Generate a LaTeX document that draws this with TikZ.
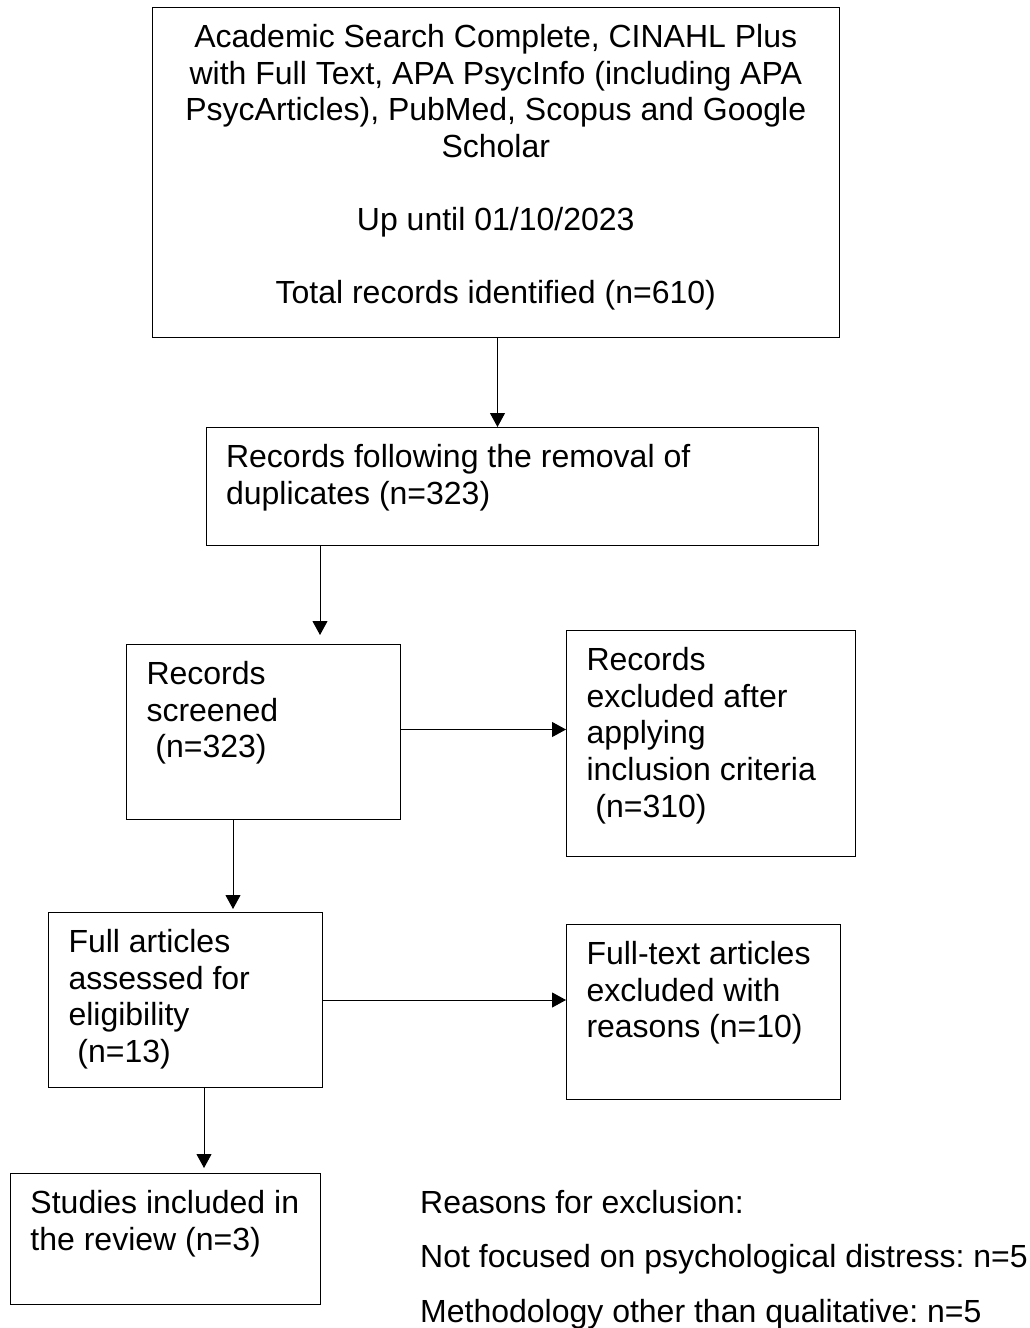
\documentclass[tikz,border=0pt]{standalone}
\usepackage{fontspec}
\setmainfont{Liberation Sans}
\usetikzlibrary{positioning,arrows.meta,calc}
\frenchspacing
\newcommand{\boxtext}[4]{\parbox[c][#2][t]{#1}{#3\strut#4}}

\begin{document}
\begin{tikzpicture}[x=1pt,y=-1pt,
    flowbox/.style={draw,line width=1pt,anchor=north west,inner xsep=20pt,inner ysep=14.5pt,font=\fontsize{32}{36.6}\selectfont},
    arr/.style={-{Triangle[length=14pt,width=15pt]},line width=1pt}]
    \useasboundingbox (0,0) rectangle (1029,1328);
    \node[flowbox] (identified) at (151.5,7) {\boxtext{647.5pt}{301pt}{\centering}{Academic Search Complete, CINAHL Plus\\with Full Text, APA PsycInfo (including APA\\PsycArticles), PubMed, Scopus and Google\\Scholar\\[36.6pt]Up until 01/10/2023\\[36.6pt]Total records identified (n=610)}};
    \node[flowbox] (deduplicated) at (205.6,427) {\boxtext{572.4pt}{89pt}{\raggedright}{Records following the removal of\\duplicates (n=323)}};
    \node[flowbox] (screened) at (126,644) {\boxtext{234pt}{146pt}{\raggedright}{Records\\screened\\\ (n=323)}};
    \node[flowbox] (excludedscreen) at (566,630) {\boxtext{249pt}{197pt}{\raggedright}{Records\\excluded after\\applying\\inclusion criteria\\\ (n=310)}};
    \node[flowbox] (assessed) at (48,912) {\boxtext{234pt}{146pt}{\raggedright}{Full articles\\assessed for\\eligibility\\\ (n=13)}};
    \node[flowbox] (excludedfull) at (566,924) {\boxtext{234pt}{146pt}{\raggedright}{Full-text articles\\excluded with\\reasons (n=10)}};
    \node[flowbox] (included) at (10,1173) {\boxtext{270pt}{102pt}{\raggedright}{Studies included in\\the review (n=3)}};
    \node[anchor=base west,inner sep=0pt,font=\fontsize{32}{54.5}\selectfont] (reasons) at (420,1213) {\parbox[t]{620pt}{\raggedright Reasons for exclusion:\\Not focused on psychological distress: n=5\\Methodology other than qualitative: n=5}};

    \draw[arr] ([xshift=1.75pt]identified.south) -- ([xshift=1.75pt]identified.south |- deduplicated.north);
    \draw[arr,shorten >=9pt] ([xshift=114.4pt]deduplicated.south west) -- ([xshift=114.4pt]deduplicated.south west |- screened.north);
    \draw[arr] ([yshift=2.5pt]screened.east) -- ([yshift=2.5pt]screened.east -| excludedscreen.west);
    \draw[arr,shorten >=3pt] ([xshift=107pt]screened.south west) -- ([xshift=107pt]screened.south west |- assessed.north);
    \draw[arr] (assessed.east) -- (assessed.east -| excludedfull.west);
    \draw[arr,shorten >=5pt] ([xshift=156pt]assessed.south west) -- ([xshift=156pt]assessed.south west |- included.north);
\end{tikzpicture}
\end{document}
